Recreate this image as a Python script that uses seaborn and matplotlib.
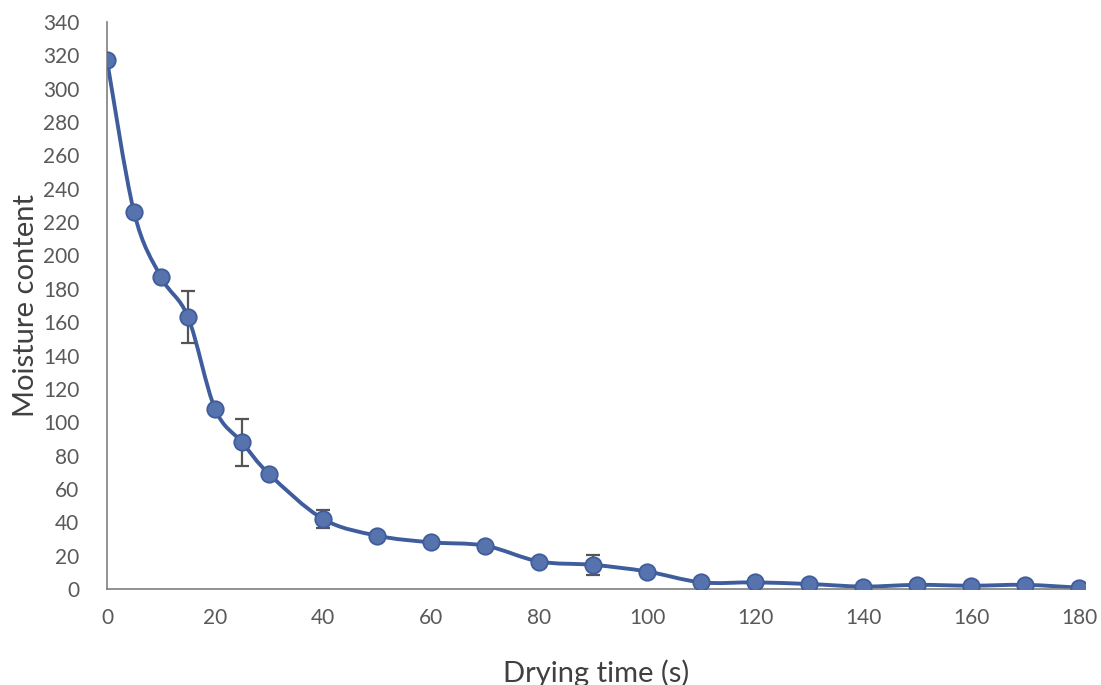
import numpy as np
import pandas as pd
import matplotlib
matplotlib.use("Agg")
import matplotlib.pyplot as plt
from matplotlib.path import Path
from matplotlib.patches import PathPatch
import seaborn as sns

# Drying curve: moisture content versus drying time
time_s = [0, 5, 10, 15, 20, 25, 30, 40, 50, 60, 70, 80, 90, 100,
          110, 120, 130, 140, 150, 160, 170, 180]
moisture = [317, 226, 187, 163, 108, 88, 69, 42, 32, 28, 26, 16.5, 14.5, 10.5,
            4, 4, 3, 1.5, 2.5, 2, 2.5, 0.8]

# Standard deviation shown as error bars
err_time = [15, 25, 40, 90, 170]
err_value = [163, 88, 42, 14.5, 2.5]
err_size = [15.5, 14, 5.5, 6, 2]

x_ticks = list(range(0, 181, 20))
y_ticks = list(range(0, 341, 20))

df = pd.DataFrame({"time": time_s, "moisture": moisture})

sns.set_theme(style="white")
plt.rcParams["font.family"] = ["Lato", "DejaVu Sans"]

LINE = "#3f5d9c"
MARK = "#5673ad"
AXIS = "#7f7f7f"
TEXT = "#595959"

fig = plt.figure(figsize=(11.01, 6.85), dpi=100)
ax = fig.add_axes([0.0972, 0.1401, 0.888, 0.8278])

# Smoothed connecting curve (Catmull-Rom converted to cubic Bezier segments)
pts = np.column_stack([df["time"].to_numpy(float), df["moisture"].to_numpy(float)])
n = len(pts)
verts = [tuple(pts[0])]
codes = [Path.MOVETO]
for i in range(n - 1):
    p0 = pts[i - 1] if i > 0 else pts[i]
    p1 = pts[i]
    p2 = pts[i + 1]
    p3 = pts[i + 2] if i + 2 < n else pts[i + 1]
    c1 = p1 + (p2 - p0) / 6.0
    c2 = p2 - (p3 - p1) / 6.0
    verts += [tuple(c1), tuple(c2), tuple(p2)]
    codes += [Path.CURVE4] * 3
curve = PathPatch(Path(verts, codes), facecolor="none", edgecolor=LINE,
                  lw=2.8, zorder=2, capstyle="round", joinstyle="round")
ax.add_patch(curve)

ax.errorbar(err_time, err_value, yerr=err_size, fmt="none", ecolor="#555555",
            elinewidth=1.6, capsize=5, capthick=1.6, zorder=3)

sns.scatterplot(data=df, x="time", y="moisture", ax=ax, s=140, color=MARK,
                edgecolor=LINE, linewidth=1.3, zorder=4, legend=False)

ax.set_xlim(0, 181)
ax.set_ylim(0, 340)
ax.set_xticks(x_ticks)
ax.set_yticks(y_ticks)
ax.tick_params(axis="both", length=0, labelsize=15, labelcolor=TEXT)
ax.tick_params(axis="x", pad=14)
ax.tick_params(axis="y", pad=20)

for side in ("top", "right"):
    ax.spines[side].set_visible(False)
for side in ("left", "bottom"):
    ax.spines[side].set_color(AXIS)
    ax.spines[side].set_linewidth(1.2)

ax.set_xlabel("Drying time (s)", fontsize=21, color="#404040", labelpad=22)
ax.set_ylabel("Moisture content", fontsize=21, color="#404040", labelpad=3)

fig.savefig("out.png", dpi=100)
